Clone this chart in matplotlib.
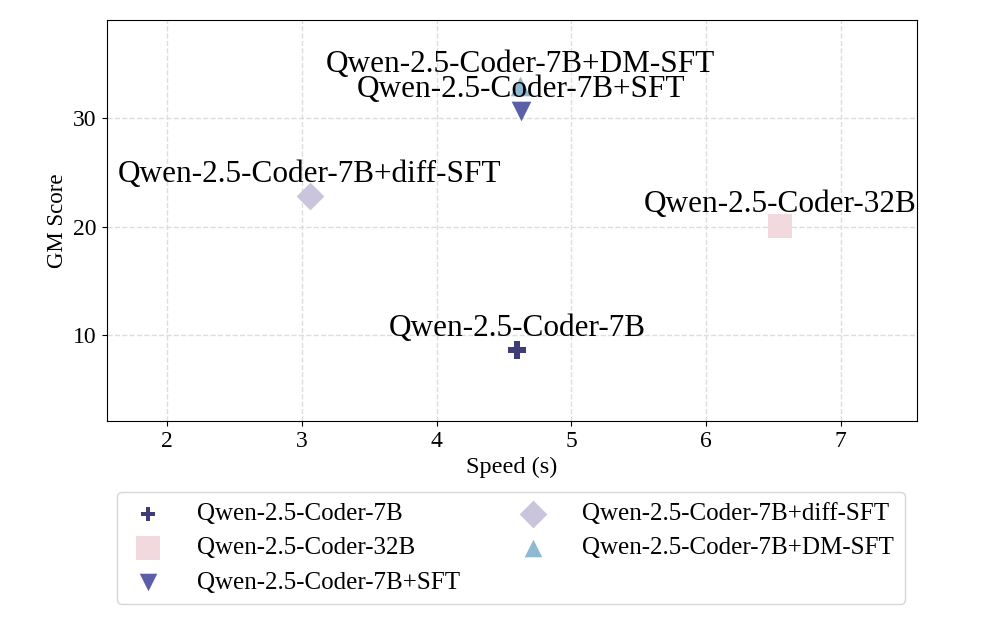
import matplotlib.pyplot as plt

plt.rcParams['font.family'] = ['Liberation Serif', 'DejaVu Serif']

models = ["Qwen-2.5-Coder-7B", "Qwen-2.5-Coder-32B", "Qwen-2.5-Coder-7B+SFT",
          "Qwen-2.5-Coder-7B+diff-SFT", "Qwen-2.5-Coder-7B+DM-SFT"]
speed = [4.6, 6.55, 4.63, 3.06, 4.62]
gm_score = [8.6, 20.1, 30.7, 22.8, 33.0]
markers = ["P", "s", "v", "D", "^"]
colors = ["#3f3d77", "#f1d9dd", "#5b5fa8", "#cac5dd", "#8fb8d3"]
sizes = [170, 300, 200, 200, 200]
legend_sizes = [110, 300, 160, 200, 160]

fig = plt.figure(figsize=(9.96, 6.19), dpi=100)
ax = fig.add_axes([0.107, 0.32, 0.814, 0.647])

for m, x, y, mk, c, s in zip(models, speed, gm_score, markers, colors, sizes):
    ax.scatter(x, y, marker=mk, color=c, s=s, label=m, zorder=3, linewidths=0)
    ax.annotate(m, (x, y), xytext=(0, 5), textcoords="offset points",
                ha="center", va="bottom", fontsize=22.5, zorder=4)

ax.set_xlim(1.55, 7.57)
ax.set_ylim(2.1, 39.0)
ax.set_xticks([2, 3, 4, 5, 6, 7])
ax.set_yticks([10, 20, 30])
ax.tick_params(labelsize=17)
ax.set_xlabel("Speed (s)", fontsize=17.5)
ax.set_ylabel("GM Score", fontsize=16.5)
ax.grid(True, linestyle="--", color="#dddddd", linewidth=1)
ax.set_axisbelow(True)

leg = fig.legend(loc="upper center", bbox_to_anchor=(0.513, 0.205), ncol=2,
                 fontsize=18, frameon=True, edgecolor="#cccccc", columnspacing=2.15,
                 handlelength=1.6, handletextpad=1.15, borderpad=0.42,
                 labelspacing=0.47, scatterpoints=1, borderaxespad=0)
for h, s in zip(leg.legend_handles, legend_sizes):
    h.set_sizes([s])

fig.savefig("out.png", dpi=100)
plt.close(fig)
